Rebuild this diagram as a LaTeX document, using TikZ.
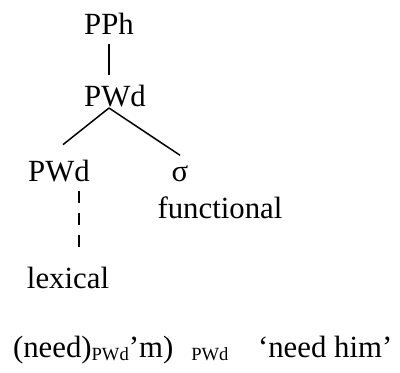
\documentclass[tikz,border=0pt]{standalone}
\usepackage{fontspec}
\setmainfont{Liberation Serif}
\newcommand{\pwsub}{\raisebox{-0.25ex}{\fontsize{9.3}{11}\selectfont PWd}}

\begin{document}
\begin{tikzpicture}[x=0.5pt, y=-0.5pt,
    every node/.style={font=\fontsize{15.4}{18}\selectfont, inner sep=0pt, outer sep=5pt},
    branch/.style={line width=0.75pt},
    dashbranch/.style={line width=0.75pt, dash pattern=on 6pt off 5pt}]
\useasboundingbox (0,0) rectangle (400,372);
\node[anchor=base] (pph) at (109,34) {PPh};
\node[anchor=base] (pwd) at (115,106) {PWd};
\node[anchor=base] (pwdlex) at (59,181) {PWd};
\node[anchor=base] (sigma) at (180,181) {σ};
\node[anchor=base] (func) at (220,218) {functional};
\node[anchor=base, outer sep=10pt] (lex) at (68,288) {lexical};
\node[anchor=base west, outer sep=0pt] (form) at (13,357) {(need)\pwsub’m)\hspace{9pt}\pwsub};
\node[anchor=base west, outer sep=0pt] (gloss) at (258,357) {‘need him’};
\coordinate (apex) at ([yshift=-1pt]pph.south |- pwd.base);
\draw[branch] (pph.south) -- (pph.south |- pwd.north);
\draw[branch] (apex) -- ([shift={(4,-5)}]pwdlex.north);
\draw[branch] (apex) -- (sigma.north);
\draw[dashbranch] ([xshift=10pt]pwdlex.south) -- ([xshift=10pt]pwdlex.south |- lex.north);
\end{tikzpicture}
\end{document}
